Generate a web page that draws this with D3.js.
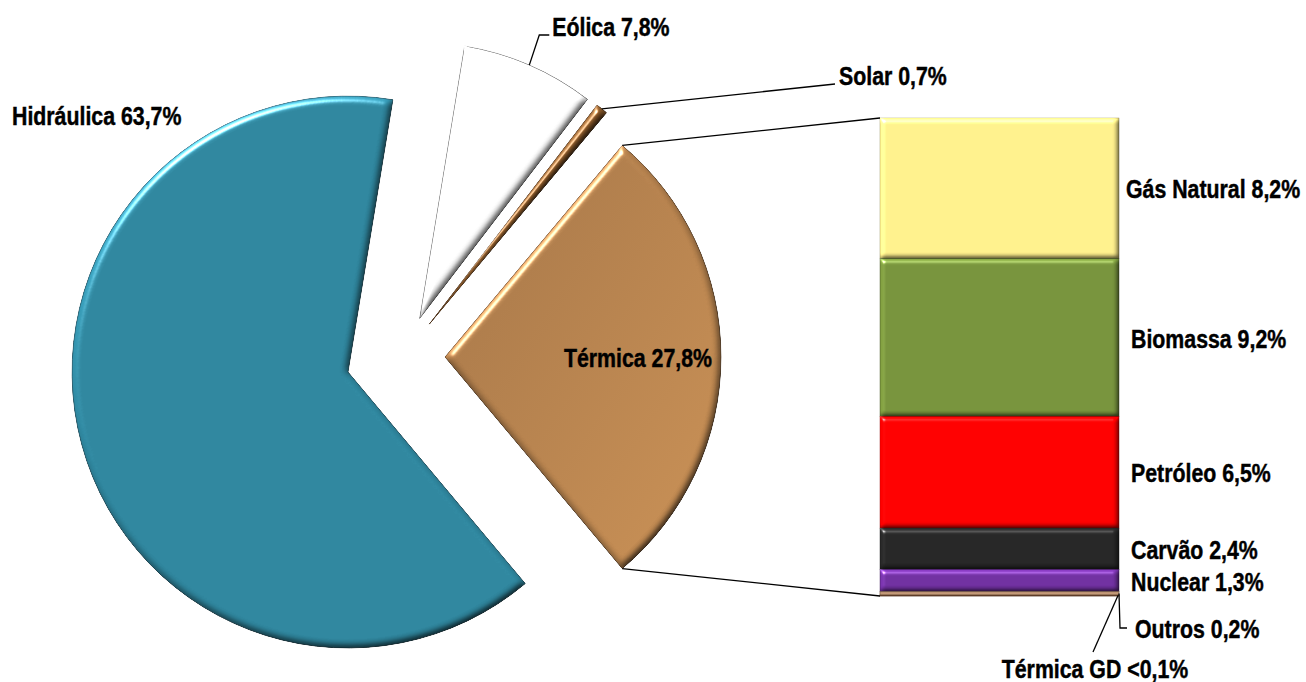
<!DOCTYPE html>
<html lang="pt">
<head>
<meta charset="utf-8">
<title>Matriz de geração elétrica</title>
<script src="https://cdn.jsdelivr.net/npm/d3@7"></script>
<style>
  html, body { margin: 0; padding: 0; background: #ffffff; }
  svg { display: block; }
  .lbl { font-family: "Liberation Sans", Arial, sans-serif; font-weight: bold; font-size: 26px; fill: #000; stroke: #000; stroke-width: 0.45; }
  .leader { stroke: #000; stroke-width: 1.3; fill: none; }
</style>
</head>
<body>
<svg id="chart" width="1306" height="682"></svg>
<script>
// Main sources (pie)
const sources = ["Hidráulica", "Eólica", "Solar", "Térmica"];
const sourceShares = [63.7, 7.8, 0.7, 27.8];

// Breakdown of the thermal share (stacked bar)
const thermalTypes = ["Gás Natural", "Biomassa", "Petróleo", "Carvão", "Nuclear", "Outros", "Térmica GD"];
const thermalShares = [8.2, 9.2, 6.5, 2.4, 1.3, 0.2, 0.05];

// Colours
const sourceColors = ["#2f869e", "#ffffff", "#7f5226", "url(#termicaGrad)"];
const sourceEdges = ["#1d5566", "#8a8a8a", "#4e3015", "#6e4a26"];
const thermalColors = ["#fff08c", "#77933c", "#ff0000", "#262626", "#7030a0", "#c49a78", "#8a5a3a"];

// Portuguese number formatting (decimal comma)
const pt = d3.formatLocale({ decimal: ",", thousands: ".", grouping: [3], currency: ["R$", ""] });
const fmt1 = pt.format(".1f");
const pctText = v => (v < 0.1 ? "<" + fmt1(0.1) : fmt1(v)) + "%";

const svg = d3.select("#chart");
const defs = svg.append("defs");

// Bevel: diffuse shading plus a narrow specular highlight, light from the upper left
function bevelFilter(id, blur, scale, spec, az) {
  const f = defs.append("filter").attr("id", id)
    .attr("x", "-5%").attr("y", "-5%").attr("width", "110%").attr("height", "110%")
    .attr("color-interpolation-filters", "sRGB");
  f.append("feGaussianBlur").attr("in", "SourceAlpha").attr("stdDeviation", blur).attr("result", "b");
  f.append("feDiffuseLighting").attr("in", "b").attr("surfaceScale", scale)
    .attr("diffuseConstant", 1).attr("lighting-color", "#fff").attr("result", "d")
    .append("feDistantLight").attr("azimuth", az).attr("elevation", 50);
  f.append("feComposite").attr("in", "SourceGraphic").attr("in2", "d")
    .attr("operator", "arithmetic").attr("k1", 1.305).attr("k2", 0).attr("k3", 0).attr("k4", 0)
    .attr("result", "shaded");
  f.append("feSpecularLighting").attr("in", "b").attr("surfaceScale", scale * 1.5)
    .attr("specularConstant", spec).attr("specularExponent", 40).attr("lighting-color", "#fff")
    .attr("result", "s")
    .append("feDistantLight").attr("azimuth", az).attr("elevation", 35);
  f.append("feComposite").attr("in", "s").attr("in2", "SourceAlpha").attr("operator", "in").attr("result", "sIn");
  f.append("feComposite").attr("in", "shaded").attr("in2", "sIn")
    .attr("operator", "arithmetic").attr("k1", 0).attr("k2", 1).attr("k3", 0.9).attr("k4", 0)
    .attr("result", "lit");
  f.append("feComposite").attr("in", "lit").attr("in2", "SourceAlpha").attr("operator", "in");
}
bevelFilter("bevelPie", 3.5, 3, 1, 240);
bevelFilter("bevelBar", 2.4, 2.4, 0.8, 235);

const tg = defs.append("linearGradient").attr("id", "termicaGrad")
  .attr("x1", "0").attr("y1", "0").attr("x2", "1").attr("y2", "1");
tg.append("stop").attr("offset", "0").attr("stop-color", "#a47547");
tg.append("stop").attr("offset", "1").attr("stop-color", "#c99055");

// ---- Pie ----
const cx = 403, cy = 357, R = 276;
const explode = [57, 42, 42, 42];
const thermalIdx = 3;
const thermalAngle = 2 * Math.PI * sourceShares[thermalIdx] / d3.sum(sourceShares);
// Thermal slice centred on the horizontal, facing the bar
const start = Math.PI / 2 + thermalAngle / 2;
const pie = d3.pie().sort(null).startAngle(start).endAngle(start + 2 * Math.PI);
const arcs = pie(sourceShares);
const arcGen = d3.arc().innerRadius(0).outerRadius(R);

const polar = (a, r) => [Math.sin(a) * r, -Math.cos(a) * r];
arcs.forEach((a, i) => {
  const mid = (a.startAngle + a.endAngle) / 2;
  const [ox, oy] = polar(mid, explode[i]);
  a.ox = cx + ox; a.oy = cy + oy; a.mid = mid;
});

const gPie = svg.append("g");
gPie.selectAll("path.slice").data(arcs).join("path")
  .attr("class", "slice")
  .attr("transform", d => `translate(${d.ox},${d.oy})`)
  .attr("d", arcGen)
  .attr("fill", (d, i) => sourceColors[i])
  .attr("stroke", (d, i) => sourceEdges[i])
  .attr("stroke-width", 0.9)
  .attr("filter", "url(#bevelPie)");

// ---- Stacked bar ----
const barX0 = 880, barX1 = 1119, barTop = 118, barBottom = 596;
const y = d3.scaleLinear().domain([0, d3.sum(thermalShares)]).range([barTop, barBottom]);
const cum = d3.cumsum(thermalShares);
const segs = thermalShares.map((v, i) => ({ v, i, y0: y(cum[i] - v), y1: y(cum[i]) }));

const gBar = svg.append("g");
gBar.selectAll("rect").data(segs).join("rect")
  .attr("x", barX0).attr("width", barX1 - barX0)
  .attr("y", d => d.y0).attr("height", d => Math.max(d.y1 - d.y0, 0.8))
  .attr("fill", d => thermalColors[d.i])
  .attr("stroke", d => d3.color(thermalColors[d.i]).darker(1.2))
  .attr("stroke-width", 0.8)
  .attr("filter", d => d.y1 - d.y0 > 8 ? "url(#bevelBar)" : null);

// Connectors from the thermal slice to the bar
const th = arcs[thermalIdx];
const pTop = polar(th.startAngle, R), pBot = polar(th.endAngle, R);
svg.append("line").attr("class", "leader")
  .attr("x1", th.ox + pTop[0]).attr("y1", th.oy + pTop[1]).attr("x2", barX0).attr("y2", barTop);
svg.append("line").attr("class", "leader")
  .attr("x1", th.ox + pBot[0]).attr("y1", th.oy + pBot[1]).attr("x2", barX0).attr("y2", barBottom);

// ---- Labels (bold, horizontally condensed) ----
const gLbl = svg.append("g");
const label = (txt, x, yy, anchor) => gLbl.append("g")
  .attr("transform", `translate(${x},${yy}) scale(0.82,1)`)
  .append("text").attr("class", "lbl")
  .attr("text-anchor", anchor || "start").text(txt);
const srcText = i => `${sources[i]} ${pctText(sourceShares[i])}`;

// Hidráulica (outside, upper left)
label(srcText(0), 12, 125);

// Eólica with elbow leader from the arc midpoint
{
  const a = arcs[1], p = polar(a.mid, R);
  const sx = a.ox + p[0], sy = a.oy + p[1];
  svg.append("path").attr("class", "leader")
    .attr("d", `M${sx},${sy}L${sx + 10},35L${sx + 20},35`);
  label(srcText(1), sx + 23, 36);
}
// Solar with straight leader
{
  const a = arcs[2], p = polar(a.mid, R);
  const sx = a.ox + p[0], sy = a.oy + p[1];
  svg.append("path").attr("class", "leader").attr("d", `M${sx},${sy}L835,84`);
  label(srcText(2), 839, 85);
}
// Térmica inside its slice
{
  const a = arcs[thermalIdx];
  label(srcText(thermalIdx), a.ox + 193, a.oy + 10, "middle");
}

// Bar labels beside each segment
segs.slice(0, 5).forEach(s => {
  label(`${thermalTypes[s.i]} ${pctText(s.v)}`, barX1 + (s.i === 0 ? 7 : 12), (s.y0 + s.y1) / 2 + 10);
});
// Outros: elbow leader down from the bar corner
{
  const s = segs[5], sy = (s.y0 + s.y1) / 2;
  svg.append("path").attr("class", "leader")
    .attr("d", `M${barX1},${sy}L${barX1 + 1},628L${barX1 + 8},628`);
  label(`${thermalTypes[5]} ${pctText(s.v)}`, barX1 + 16, 638);
}
// Térmica GD: slanted leader down-left
{
  const s = segs[6], sy = (s.y0 + s.y1) / 2;
  svg.append("path").attr("class", "leader")
    .attr("d", `M${barX1 - 1},${sy}L1093,652`);
  label(`${thermalTypes[6]} ${pctText(s.v)}`, 1095, 678, "middle");
}
</script>
</body>
</html>
